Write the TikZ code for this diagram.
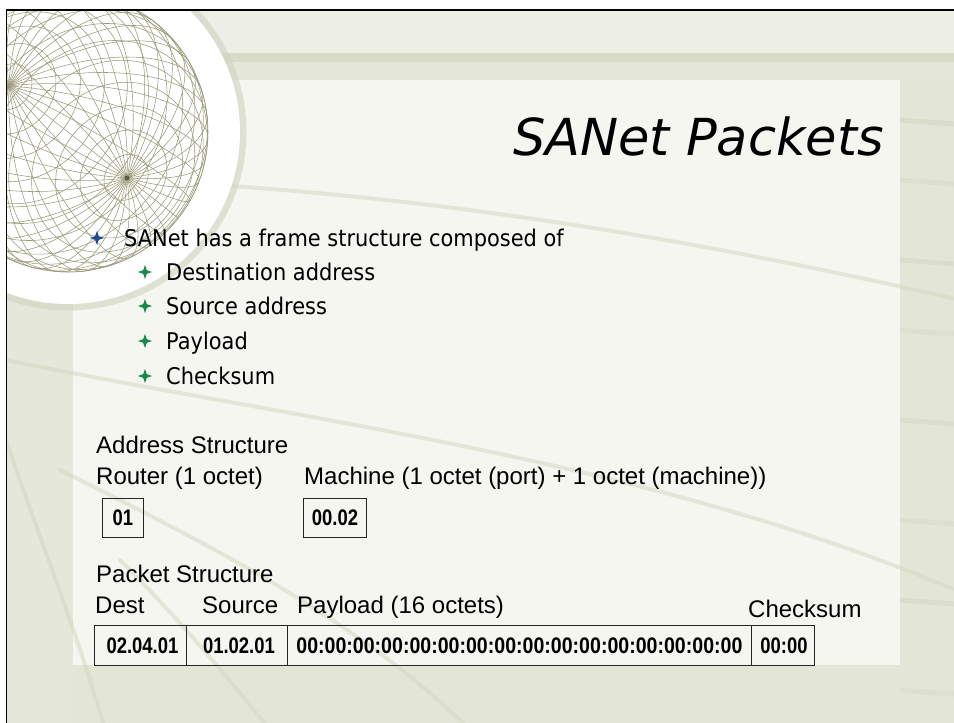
\documentclass[tikz,border=0pt]{standalone}
\usepackage{fontspec}
\setmainfont{Liberation Sans}
\newfontfamily\slidefont[FakeStretch=0.91]{DejaVu Sans}
\newfontfamily\headfont{DejaVu Sans}
\newfontfamily\cellfont[FakeStretch=0.82]{Liberation Sans}
\newfontfamily\widecellfont[FakeStretch=0.87]{Liberation Sans}
\definecolor{bgouter}{HTML}{E3E6D6}
\definecolor{bgtop}{HTML}{EDEFE6}
\definecolor{bgband}{HTML}{D8DBC8}
\definecolor{bgmid}{HTML}{E5E7DB}
\definecolor{panelc}{HTML}{F5F6F0}
\definecolor{swoosh}{HTML}{D3D7C0}
\definecolor{wirec}{HTML}{9A9A7A}
\definecolor{ringc}{HTML}{D0D4BE}
\definecolor{starblue}{HTML}{1F4A8C}
\definecolor{stargreen}{HTML}{178A4C}
\tikzset{
  fourstar/.pic={\fill[pic actions] (0,-1)--(0.26,-0.26)--(1,0)--(0.26,0.26)--(0,1)--(-0.26,0.26)--(-1,0)--(-0.26,-0.26)--cycle;},
  wire/.style={draw=wirec, line width=0.55pt},
  sweep/.style={draw=swoosh, line width=4pt, line cap=round, opacity=0.5},
  titletext/.style={anchor=base west, inner sep=0, font=\headfont\itshape\fontsize{51}{60}\selectfont},
  bullettext/.style={anchor=base west, inner sep=0, font=\slidefont\fontsize{23}{28}\selectfont},
  label/.style={anchor=base west, inner sep=0, font=\fontsize{24}{28}\selectfont},
  cell/.style={draw=black!85, line width=0.9pt, anchor=north west, inner sep=0pt,
    font=\cellfont\bfseries\fontsize{22.5}{26}\selectfont},
}
\begin{document}
\begin{tikzpicture}[x=1pt,y=-1pt]
\useasboundingbox (0,0) rectangle (954,723);
\fill[white] (0,0) rectangle (954,723);
\begin{scope}
\clip (6.5,10) rectangle (954,723);
% slide background
\fill[bgouter] (6.5,10) rectangle (954,723);
\fill[bgtop] (6.5,10) rectangle (954,53);
\fill[bgband] (6.5,53) rectangle (954,62);
\fill[bgmid] (6.5,62) rectangle (954,80);
\fill[bgmid] (6.5,80) rectangle (73,723);
% streaks on the right strip
\foreach \yy/\op in {120/0.5,180/0.35,260/0.45,330/0.3,420/0.4,520/0.35,600/0.45,690/0.3}{
  \draw[draw=ringc, line width=5pt, opacity=\op] (900,\yy) -- (954,\yy+4);
}
% content panel
\fill[panelc] (73,80) rectangle (900,665);
% background sweeps
\draw[sweep] (215,185) .. controls (450,200) and (700,240) .. (960,300);
\draw[sweep] (6,360) .. controls (300,420) and (650,460) .. (960,592);
\draw[sweep] (60,470) .. controls (200,540) and (360,620) .. (470,730);
\draw[sweep] (6,440) .. controls (40,540) and (80,640) .. (105,730);
\draw[sweep] (120,560) .. controls (180,620) and (230,680) .. (270,730);
% globe: white disc, soft rim and wireframe sphere
\draw[ringc, line width=7pt, opacity=0.6] (68,132) circle[radius=175pt];
\fill[white] (68,132) circle[radius=172pt];
\foreach \p in {0,10,...,170}{
  \draw[wire] plot[domain=0:360, samples=73, smooth, variable=\t]
    ({68+140*(cos(\t)*(cos(\p)*0.6149+sin(\p)*0.6666)+sin(\t)*0.4214)},
     {132+140*(cos(\t)*(cos(\p)*(-0.7886)+sin(\p)*0.5198)+sin(\t)*0.3286)});
}
\foreach \q in {-80,-70,...,80}{
  \draw[wire] plot[domain=0:360, samples=73, smooth, variable=\t]
    ({68+140*(cos(\q)*(cos(\t)*0.6149+sin(\t)*0.6666)+sin(\q)*0.4214)},
     {132+140*(cos(\q)*(cos(\t)*(-0.7886)+sin(\t)*0.5198)+sin(\q)*0.3286)});
}
\draw[wire] (68,132) circle[radius=140pt];
\fill[wirec!60!black] (127,178) circle[radius=2.5pt];
\end{scope}
% frame edges
\draw[black, line width=1.6pt] (6.5,723) -- (6.5,10) -- (954,10);

% title
\node[titletext] (title) at (513,155) {SANet Packets};
% bullets
\pic[fill=starblue, scale=7] (b0) at (97,238) {fourstar};
\node[bullettext] (main) at (124,246) {SANet has a frame structure composed of};
\pic[fill=stargreen, scale=7] (b1) at (145,272) {fourstar};
\node[bullettext] (dst) at (166,280) {Destination address};
\pic[fill=stargreen, scale=7] (b2) at (145,306) {fourstar};
\node[bullettext] (src) at (166,314) {Source address};
\pic[fill=stargreen, scale=7] (b3) at (145,341) {fourstar};
\node[bullettext] (pay) at (166,349) {Payload};
\pic[fill=stargreen, scale=7] (b4) at (145,376) {fourstar};
\node[bullettext] (chk) at (166,384) {Checksum};

% address structure
\node[label] (addr) at (96,453) {Address Structure};
\node[label] (router) at (96,484) {Router (1 octet)};
\node[label] (machine) at (304,484) {Machine (1 octet (port) + 1 octet (machine))};
\node[cell, minimum width=41pt, minimum height=39pt] (rbox) at (102,498) {01};
\node[cell, minimum width=63pt, minimum height=39pt] (mbox) at (303,498) {00.02};

% packet structure
\node[label] (packet) at (96,582) {Packet Structure};
\node[label] (hdest) at (95,613) {Dest};
\node[label] (hsrc) at (202,613) {Source};
\node[label] (hpay) at (297,613) {Payload (16 octets)};
\node[label] (hchk) at (748,617) {Checksum};
\node[cell, minimum width=92pt, minimum height=40pt] (cdest) at (94,625) {\hspace{4pt}02.04.01};
\node[cell, minimum width=101pt, minimum height=40pt] (csrc) at (186,625) {\hspace{4pt}01.02.01};
\node[cell, minimum width=464pt, minimum height=40pt, font=\widecellfont\bfseries\fontsize{22.5}{26}\selectfont] (cpay) at (287,625) {00:00:00:00:00:00:00:00:00:00:00:00:00:00:00:00};
\node[cell, minimum width=63pt, minimum height=40pt] (cchk) at (751,625) {\hspace{2pt}00:00};
\end{tikzpicture}
\end{document}
